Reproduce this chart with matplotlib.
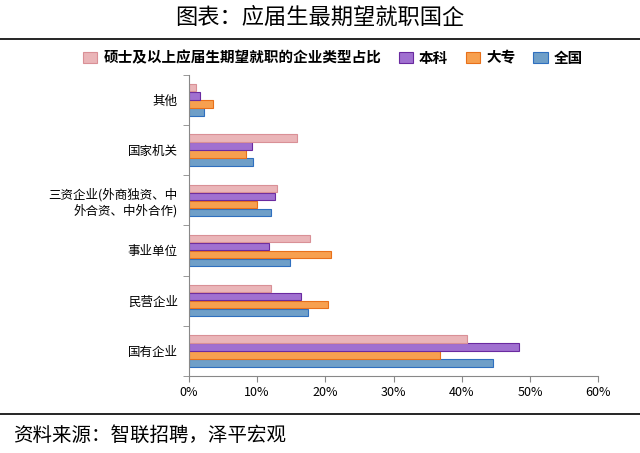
import matplotlib.pyplot as plt
import numpy as np
from matplotlib.ticker import PercentFormatter

plt.rcParams['font.family'] = 'Noto Sans CJK SC'

categories = ['国有企业', '民营企业', '事业单位', '三资企业(外商独资、中\n外合资、中外合作)', '国家机关', '其他']
quanguo = [44.5, 17.5, 14.8, 12.0, 9.4, 2.2]
dazhuan = [36.8, 20.4, 20.8, 10.0, 8.4, 3.6]
benke = [48.3, 16.5, 11.8, 12.7, 9.3, 1.7]
shuoshi = [40.7, 12.0, 17.7, 12.9, 15.8, 1.0]
series_names = ['全国', '大专', '本科', '硕士及以上应届生期望就职的企业类型占比']

fig = plt.figure(figsize=(6.4, 4.53), dpi=100)
ax = fig.add_axes([0.295, 0.17, 0.64, 0.665])

y = np.arange(len(categories))
h = 0.16
series = [quanguo, dazhuan, benke, shuoshi]
faces = ['#6f9fc8', '#f7a04f', '#a070d0', '#eab5b8']
edges = ['#2f6fbf', '#e8701a', '#6a2aa0', '#d99096']
offsets = [-1.5 * h, -0.5 * h, 0.5 * h, 1.5 * h]
for vals, fc, ec, off, name in zip(series, faces, edges, offsets, series_names):
    ax.barh(y + off, vals, height=h * 0.92, color=fc, edgecolor=ec, linewidth=0.8, label=name)

ax.set_xlim(0, 60)
ax.set_ylim(-0.5, len(categories) - 0.5)
ax.set_xticks(range(0, 61, 10))
ax.xaxis.set_major_formatter(PercentFormatter(decimals=0))
ax.set_yticks(y)
ax.set_yticklabels(categories, fontsize=9)
ax.set_yticks(np.arange(-0.5, len(categories), 1), minor=True)
ax.tick_params(axis='y', which='major', length=0, pad=8)
ax.tick_params(axis='y', which='minor', length=4, color='#888888')
ax.tick_params(axis='x', labelsize=9, color='#888888', length=4)
for s in ['top', 'right']:
    ax.spines[s].set_visible(False)
for s in ['left', 'bottom']:
    ax.spines[s].set_color('#888888')

handles, labels = ax.get_legend_handles_labels()
fig.legend(handles[::-1], labels[::-1], loc='center', bbox_to_anchor=(0.52, 0.873), ncol=4,
           frameon=False, prop={'weight': 'bold', 'size': 10.5},
           handlelength=1.0, handleheight=0.7, columnspacing=1.2, handletextpad=0.4)

fig.text(0.5, 0.962, '图表：应届生最期望就职国企', ha='center', va='center', fontsize=16)
fig.add_artist(plt.Line2D([0, 1], [0.915, 0.915], color='black', linewidth=1.2))
fig.add_artist(plt.Line2D([0, 1], [0.085, 0.085], color='black', linewidth=1.2))
fig.text(0.02, 0.04, '资料来源：智联招聘，泽平宏观', ha='left', va='center', fontsize=14, style='italic')

fig.savefig('out.png', dpi=100)
